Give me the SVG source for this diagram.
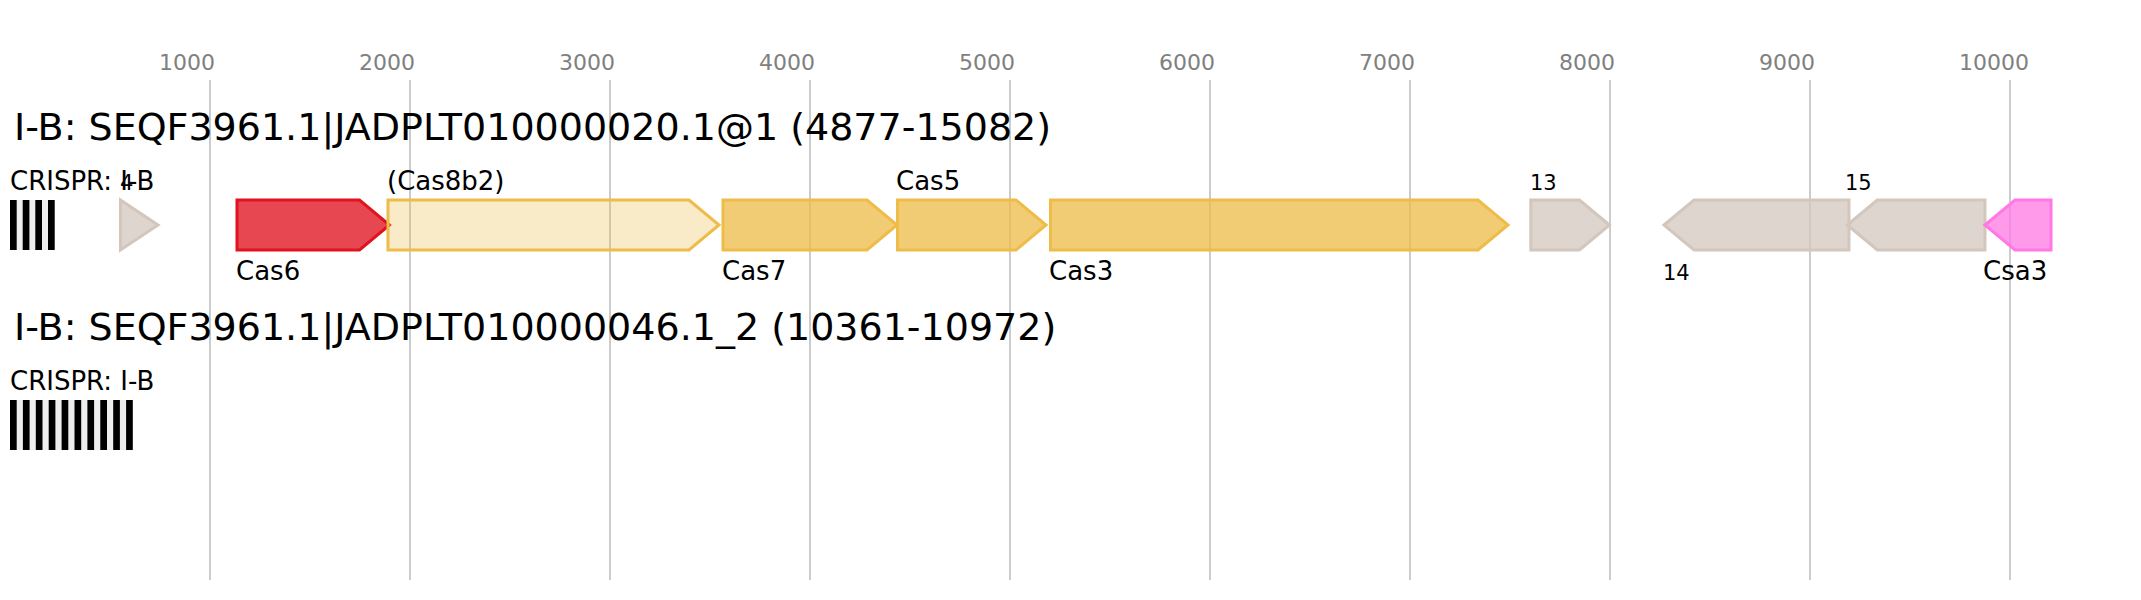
<svg xmlns="http://www.w3.org/2000/svg" width="2141" height="600" viewBox="0 0 2141 600">
<style>
text{font-family:"DejaVu Sans","Liberation Sans",sans-serif;fill:#000}
.ax{font-size:22px;fill:#808080}
.grid{stroke:#bbbbbb;stroke-width:1.5}
.title{font-size:38px}
.lab{font-size:26px}
.num{font-size:21px}
.gene{stroke-width:3}
.red{stroke:#e0131f;fill:#e0131f;fill-opacity:0.78}
.yel{stroke:#eebc48;fill:#eebc48;fill-opacity:0.76}
.pale{stroke:#eebc48;fill:#eebc48;fill-opacity:0.3}
.gray{stroke:#d3c7bd;fill:#d3c7bd;fill-opacity:0.75}
.pink{stroke:#ff78e4;fill:#ff78e4;fill-opacity:0.75}
.rep{fill:#000}
.spc{fill:#eeeeee}
</style>
<rect width="2141" height="600" fill="#fff"/>
<g id="axis">
<line class="grid" x1="210" y1="80" x2="210" y2="580"/>
<line class="grid" x1="410" y1="80" x2="410" y2="580"/>
<line class="grid" x1="610" y1="80" x2="610" y2="580"/>
<line class="grid" x1="810" y1="80" x2="810" y2="580"/>
<line class="grid" x1="1010" y1="80" x2="1010" y2="580"/>
<line class="grid" x1="1210" y1="80" x2="1210" y2="580"/>
<line class="grid" x1="1410" y1="80" x2="1410" y2="580"/>
<line class="grid" x1="1610" y1="80" x2="1610" y2="580"/>
<line class="grid" x1="1810" y1="80" x2="1810" y2="580"/>
<line class="grid" x1="2010" y1="80" x2="2010" y2="580"/>
<text class="ax" x="159" y="70">1000</text>
<text class="ax" x="359" y="70">2000</text>
<text class="ax" x="559" y="70">3000</text>
<text class="ax" x="759" y="70">4000</text>
<text class="ax" x="959" y="70">5000</text>
<text class="ax" x="1159" y="70">6000</text>
<text class="ax" x="1359" y="70">7000</text>
<text class="ax" x="1559" y="70">8000</text>
<text class="ax" x="1759" y="70">9000</text>
<text class="ax" x="1959" y="70">10000</text>
</g>
<g id="connectors"></g>
<g id="track1">
<text class="title" x="14" y="140">I-B: SEQF3961.1|JADPLT010000020.1@1 (4877-15082)</text>
<g id="crispr1">
<text class="lab" x="10" y="190">CRISPR: I-B</text>
<rect class="spc" x="10" y="200" width="44.7" height="50"/>
<rect class="rep" x="10" y="200" width="6.7" height="50"/>
<rect class="rep" x="22.7" y="200" width="6.7" height="50"/>
<rect class="rep" x="35.3" y="200" width="6.7" height="50"/>
<rect class="rep" x="48" y="200" width="6.7" height="50"/>
</g>
<g id="gene4">
<polygon class="gene gray" points="120.5,200 158,225 120.5,250"/>
<text class="num" x="120" y="190">4</text>
</g>
<g id="cas6">
<polygon class="gene red" points="237,200 359.5,200 389.5,225 359.5,250 237,250"/>
<text class="lab" x="236" y="280">Cas6</text>
</g>
<g id="cas8b2">
<polygon class="gene pale" points="388,200 689,200 719,225 689,250 388,250"/>
<text class="lab" x="387" y="190">(Cas8b2)</text>
</g>
<g id="cas7">
<polygon class="gene yel" points="723,200 867,200 897,225 867,250 723,250"/>
<text class="lab" x="722" y="280">Cas7</text>
</g>
<g id="cas5">
<polygon class="gene yel" points="897.5,200 1016,200 1046,225 1016,250 897.5,250"/>
<text class="lab" x="896" y="190">Cas5</text>
</g>
<g id="cas3">
<polygon class="gene yel" points="1050.5,200 1478,200 1508,225 1478,250 1050.5,250"/>
<text class="lab" x="1049" y="280">Cas3</text>
</g>
<g id="gene13">
<polygon class="gene gray" points="1530.8,200 1579.5,200 1609.5,225 1579.5,250 1530.8,250"/>
<text class="num" x="1530" y="190">13</text>
</g>
<g id="gene14">
<polygon class="gene gray" points="1664,225 1694,200 1849,200 1849,250 1694,250"/>
<text class="num" x="1663" y="280">14</text>
</g>
<g id="gene15">
<polygon class="gene gray" points="1847.3,225 1877.3,200 1985,200 1985,250 1877.3,250"/>
<text class="num" x="1845" y="190">15</text>
</g>
<g id="csa3">
<polygon class="gene pink" points="1985,225 2015,200 2051,200 2051,250 2015,250"/>
<text class="lab" x="1983" y="280">Csa3</text>
</g>
</g>
<g id="track2">
<text class="title" x="14" y="340">I-B: SEQF3961.1|JADPLT010000046.1_2 (10361-10972)</text>
<g id="crispr2">
<text class="lab" x="10" y="390">CRISPR: I-B</text>
<rect class="spc" x="10" y="400" width="122.8" height="50"/>
<rect class="rep" x="10" y="400" width="6.7" height="50"/>
<rect class="rep" x="22.9" y="400" width="6.7" height="50"/>
<rect class="rep" x="35.8" y="400" width="6.7" height="50"/>
<rect class="rep" x="48.7" y="400" width="6.7" height="50"/>
<rect class="rep" x="61.6" y="400" width="6.7" height="50"/>
<rect class="rep" x="74.5" y="400" width="6.7" height="50"/>
<rect class="rep" x="87.4" y="400" width="6.7" height="50"/>
<rect class="rep" x="100.3" y="400" width="6.7" height="50"/>
<rect class="rep" x="113.2" y="400" width="6.7" height="50"/>
<rect class="rep" x="126.1" y="400" width="6.7" height="50"/>
</g>
</g>
</svg>
